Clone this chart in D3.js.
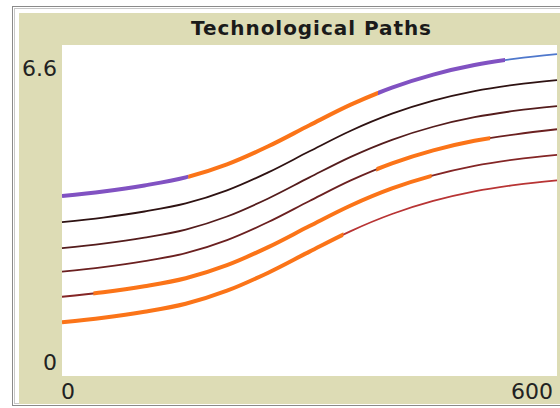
<!DOCTYPE html>
<html>
<head>
<meta charset="utf-8">
<script src="https://cdn.jsdelivr.net/npm/d3@7/dist/d3.min.js"></script>
<style>
  html, body { margin: 0; padding: 0; background: #ffffff; }
  svg { display: block; }
</style>
</head>
<body>
<script>
// ---- data ----
const chartTitle = "Technological Paths";
const xValues = [0, 50, 100, 150, 200, 250, 300, 350, 400, 450, 500, 550, 600];
const path1 = [3.59, 3.68, 3.80, 3.96, 4.22, 4.58, 5.00, 5.41, 5.75, 6.01, 6.20, 6.33, 6.42];
const path2 = [3.07, 3.16, 3.28, 3.44, 3.70, 4.06, 4.48, 4.89, 5.23, 5.49, 5.68, 5.81, 5.90];
const path3 = [2.55, 2.64, 2.76, 2.92, 3.18, 3.54, 3.96, 4.37, 4.71, 4.97, 5.16, 5.29, 5.38];
const path4 = [2.08, 2.17, 2.29, 2.45, 2.71, 3.07, 3.49, 3.90, 4.24, 4.50, 4.69, 4.82, 4.92];
const path5 = [1.58, 1.67, 1.79, 1.95, 2.21, 2.57, 2.99, 3.40, 3.74, 4.00, 4.19, 4.32, 4.41];
const path6 = [1.07, 1.16, 1.28, 1.44, 1.70, 2.06, 2.48, 2.89, 3.23, 3.49, 3.68, 3.81, 3.90];
const paths = [path1, path2, path3, path4, path5, path6];

// highlighted (active) stretches: which path, from x, to x, state
const activePath  = [0, 0, 0, 3, 4, 5];
const activeFrom  = [0, 153, 383, 381, 38, 0];
const activeTo    = [153, 383, 537, 519, 448, 341];
const activeState = ["A", "B", "A", "B", "B", "B"];

const xTicks = [0, 600];
const yTicks = [0, 6.6];

// ---- styles ----
const pathColors = ["#4f78cc", "#2e1212", "#541c1c", "#6b2020", "#842626", "#b83434"];
const stateColors = { A: "#8152c2", B: "#fb7418" };

const W = 560, H = 408;
const plot = { left: 62, right: 557, top: 45, bottom: 376 };

const svg = d3.select("body").append("svg")
  .attr("width", W).attr("height", H);

// outer frame
svg.append("rect").attr("x", 0).attr("y", 0).attr("width", W).attr("height", H).attr("fill", "#ffffff");
svg.append("rect").attr("x", 12.5).attr("y", 6.5).attr("width", W).attr("height", 399)
  .attr("fill", "none").attr("stroke", "#8a8a8a").attr("stroke-width", 1);
svg.append("rect").attr("x", 14.5).attr("y", 8.5).attr("width", W).attr("height", 395)
  .attr("fill", "none").attr("stroke", "#c8c8c8").attr("stroke-width", 1);
svg.append("rect").attr("x", 19).attr("y", 13).attr("width", W - 19).attr("height", 391)
  .attr("fill", "#dddcb5");

// plot area
svg.append("rect").attr("x", plot.left).attr("y", plot.top)
  .attr("width", plot.right - plot.left).attr("height", plot.bottom - plot.top)
  .attr("fill", "#ffffff");

const x = d3.scaleLinear().domain([0, 600]).range([plot.left, plot.right]);
const y = d3.scaleLinear().domain([0, 6.6]).range([plot.bottom, plot.top]);

// title
svg.append("text")
  .attr("x", 311).attr("y", 35)
  .attr("text-anchor", "middle")
  .attr("font-family", "DejaVu Sans, sans-serif")
  .attr("font-weight", "bold")
  .attr("font-size", 20)
  .attr("fill", "#1a1a1a")
  .attr("textLength", 240)
  .attr("lengthAdjust", "spacing")
  .text(chartTitle);

// tick labels
const labelFont = "DejaVu Sans, sans-serif";
svg.selectAll(".ylab").data(yTicks).enter().append("text")
  .attr("class", "ylab")
  .attr("x", 57)
  .attr("y", (d, i) => i === 0 ? 370 : 76)
  .attr("text-anchor", "end")
  .attr("font-family", labelFont).attr("font-size", 22).attr("fill", "#222")
  .text(d => d3.format("~g")(d));

svg.selectAll(".xlab").data(xTicks).enter().append("text")
  .attr("class", "xlab")
  .attr("x", (d, i) => i === 0 ? x(d) - 1 : x(d) - 4)
  .attr("y", 399)
  .attr("text-anchor", (d, i) => i === 0 ? "start" : "end")
  .attr("font-family", labelFont).attr("font-size", 22).attr("fill", "#222")
  .text(d => d);

const line = d3.line()
  .x((d, i) => x(xValues[i]))
  .y(d => y(d))
  .curve(d3.curveMonotoneX);

const g = svg.append("g");

// thin paths
g.selectAll(".path").data(paths).enter().append("path")
  .attr("class", "path")
  .attr("d", d => line(d))
  .attr("fill", "none")
  .attr("stroke", (d, i) => pathColors[i])
  .attr("stroke-width", 1.8);

// highlighted stretches
const defs = svg.append("defs");
activePath.forEach((p, k) => {
  const id = "clip" + k;
  defs.append("clipPath").attr("id", id)
    .append("rect")
    .attr("x", x(activeFrom[k]))
    .attr("y", plot.top)
    .attr("width", x(activeTo[k]) - x(activeFrom[k]))
    .attr("height", plot.bottom - plot.top);
  g.append("path")
    .attr("d", line(paths[p]))
    .attr("fill", "none")
    .attr("stroke", stateColors[activeState[k]])
    .attr("stroke-width", 4)
    .attr("clip-path", "url(#" + id + ")");
});
</script>
</body>
</html>
